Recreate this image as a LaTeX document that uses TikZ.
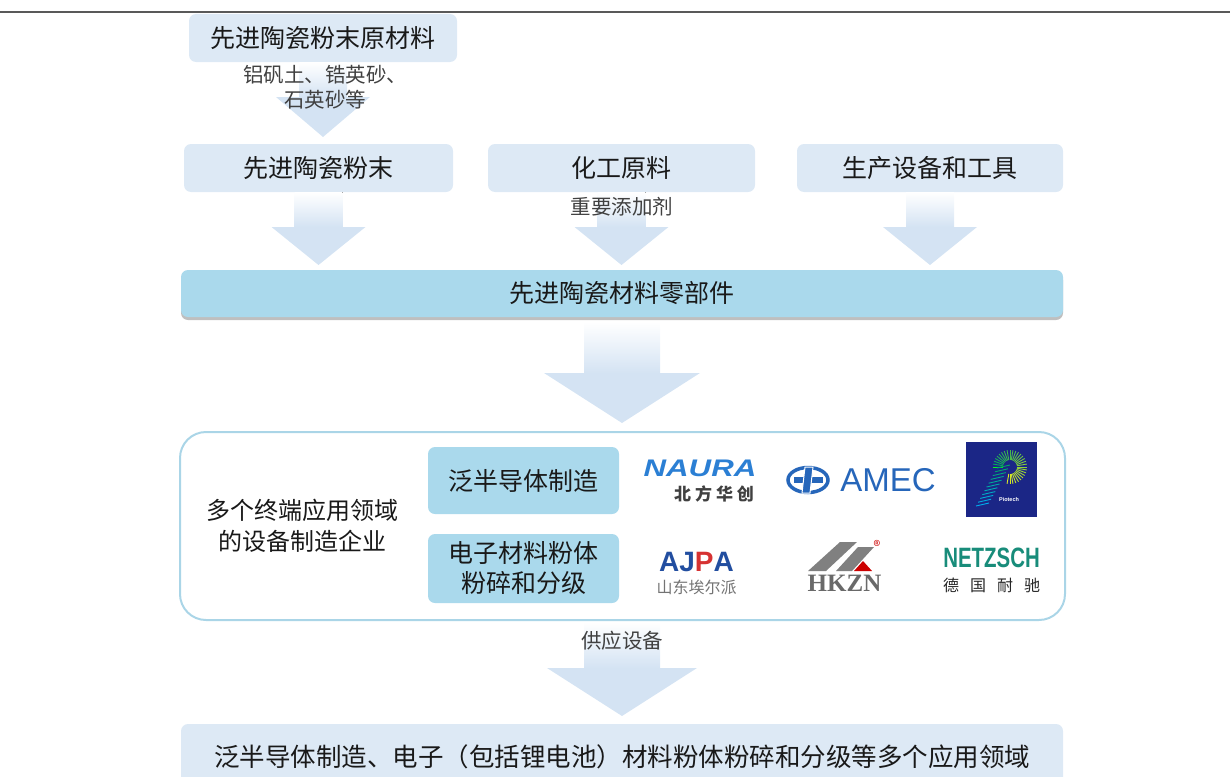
\documentclass[tikz,border=0pt]{standalone}
\usepackage{fontspec}
\setmainfont{Noto Sans CJK SC}
\newfontfamily\latinsans{Liberation Sans}
\newfontfamily\latinserif{Liberation Serif}
\usetikzlibrary{calc, shadows}

\definecolor{lightbox}{RGB}{221,233,245}
\definecolor{bluebox}{RGB}{170,217,236}
\definecolor{frameblue}{RGB}{170,213,231}
\definecolor{arrowblue}{RGB}{212,227,243}
\definecolor{naurablue}{RGB}{43,127,212}
\definecolor{amecblue}{RGB}{38,102,186}
\definecolor{pionavy}{RGB}{27,38,134}
\definecolor{ajpablue}{RGB}{34,78,160}
\definecolor{ajpared}{RGB}{214,50,50}
\definecolor{hkgrey}{RGB}{105,105,105}
\definecolor{netzteal}{RGB}{24,140,122}

\newcommand\fatarrow[5]{%
  \fill[arrow shaft] let \p1=(#1), \p2=(#2) in (\x1-#3pt,\y1) rectangle (\x1+#3pt,\y2+#5pt);
  \fill[arrow head] let \p1=(#1), \p2=(#2) in (\x1-#4pt,\y2+#5pt) -- (\x1+#4pt,\y2+#5pt) -- (\x1,\y2) -- cycle;
}

\begin{document}
\begin{tikzpicture}[x=1pt, y=-1pt,
    box/.style={rounded corners=7pt, inner sep=0pt, text=black!90, font=\fontsize{25}{30}\selectfont, align=center},
    light node/.style={box, fill=lightbox, minimum width=268pt, minimum height=48pt},
    blue node/.style={box, fill=bluebox},
    note node/.style={font=\fontsize{20.5}{25}\selectfont, text=black!75, align=center},
    logo node/.style={inner sep=0pt},
    arrow shaft/.style={top color=white, bottom color=arrowblue},
    arrow head/.style={fill=arrowblue}]
\useasboundingbox (0,0) rectangle (1230,776);
\clip (0,0) rectangle (1230,776);
\draw[black!65, line width=1.5pt] (0,12) -- (1230,12);

% supply side
\node[light node] (raw) at (323,38) {先进陶瓷粉末原材料};
\node[light node, minimum width=269pt] (powder) at (318.5,168) {先进陶瓷粉末};
\node[light node, minimum width=267pt] (chem) at (621.5,168) {化工原料};
\node[light node, minimum width=266pt] (tools) at (930,168) {生产设备和工具};
\node[blue node, minimum width=882pt, minimum height=47pt,
    drop shadow={shadow xshift=0pt, shadow yshift=-3pt, opacity=.25, fill=black}] (parts) at (622,293.5) {先进陶瓷材料零部件};

% equipment makers
\node[draw=frameblue, line width=2pt, rounded corners=26pt, minimum width=885pt, minimum height=188pt, inner sep=0pt] (makers) at (622.5,526) {};
\node[font=\fontsize{24}{31}\selectfont, text=black!90, align=center] (makers text) at (302,526) {多个终端应用领域\\的设备制造企业};
\node[blue node, minimum width=191pt, minimum height=67pt] (semi) at (523.5,480.5) {泛半导体制造};
\node[blue node, minimum width=191pt, minimum height=69pt] (grind) at (523.5,568.5) {电子材料粉体\\粉碎和分级};

% applications
\node[light node, minimum width=882pt, minimum height=66pt, font=\fontsize{25.5}{30}\selectfont] (apps) at (622,757) {泛半导体制造、电子（包括锂电池）材料粉体粉碎和分级等多个应用领域};

% arrows
\coordinate (tip raw) at (323,137);
\fatarrow{raw.south}{tip raw}{24}{47}{40}
\coordinate (tip powder) at (318.5,265);
\fatarrow{powder.south}{tip powder}{24}{47}{38}
\coordinate (tip chem) at (621.5,265);
\fatarrow{chem.south}{tip chem}{24}{47}{38}
\coordinate (tip tools) at (930,265);
\fatarrow{tools.south}{tip tools}{24}{47}{38}
\coordinate (parts tail) at (622,322);
\coordinate (tip parts) at (622,423);
\fatarrow{parts tail}{tip parts}{38}{78}{50}
\coordinate (makers tail) at (622,622);
\coordinate (tip makers) at (622,716);
\fatarrow{makers tail}{tip makers}{38}{75}{48}

\node[note node] (raw note) at (325,87) {铝矾土、锆英砂、\\石英砂等};
\node[note node] (chem note) at (622,207) {重要添加剂};
\node[note node] (supply note) at (622,641) {供应设备};

% logos
\node[logo node, text=naurablue, font=\latinsans\bfseries\itshape\fontsize{24}{26}\selectfont, xscale=1.3] (naura) at (700,468.5) {NAURA};
\node[logo node, text=black!75, font=\bfseries\fontsize{17}{20}\selectfont] (naura cn) at (714,494) {北\hskip4pt 方\hskip4pt 华\hskip4pt 创};

\draw[amecblue, line width=3.5pt] (808,480) ellipse [x radius=20pt, y radius=12.5pt];
\filldraw[amecblue, draw=white, line width=1pt] (793,476.5) rectangle (823,483.5);
\filldraw[amecblue, draw=white, line width=1pt] (805,467) -- (813,467) -- (810,493) -- (802,493) -- cycle;
\node[logo node, text=amecblue, font=\latinsans\fontsize{33}{36}\selectfont] (amec) at (888,480) {AMEC};

\fill[pionavy] (966,442) rectangle (1037,517);
\foreach \a [evaluate=\a as \c using {int((\a-180)/2.9)}] in {180,190,...,460}
  \draw[yellow!\c!green!90!cyan, line width=0.9pt] ($(1010,467)+(\a:7)$) -- ($(1010,467)+(\a:17)$);
\foreach \k [evaluate=\k as \c using {int(100-\k*9)}] in {0,...,10}
  \draw[cyan!\c!green, line width=0.9pt] (976+\k*2.1,506-\k*3.8) -- ++(13,-3);
\node[logo node, text=white, font=\latinsans\bfseries\fontsize{5.5}{6}\selectfont] (piotech) at (1009,500) {Piotech};

\node[logo node, text=ajpablue, font=\latinsans\bfseries\fontsize{28}{30}\selectfont] (ajpa) at (696.5,562) {AJ\textcolor{ajpared}{P}A};
\node[logo node, text=black!55, font=\fontsize{16}{18}\selectfont] (ajpa cn) at (696.5,587.5) {山东埃尔派};

\fill[hkgrey!85] (808,571) -- (826,571) -- (857,542) -- (840,542) -- cycle;
\fill[hkgrey!85] (836,571) -- (852,571) -- (874,547) -- (858,547) -- cycle;
\fill[red!80!black] (854,571) -- (872,571) -- (863,561) -- cycle;
\node[logo node, text=red!80!black, font=\fontsize{14}{15}\selectfont] (hkzn mark) at (877,546) {®};
\node[logo node, text=hkgrey, font=\latinserif\bfseries\fontsize{25}{27}\selectfont] (hkzn) at (844.5,583.5) {HKZN};

\node[logo node, text=netzteal, font=\latinsans\bfseries\fontsize{28}{30}\selectfont, xscale=0.73] (netzsch) at (991.5,558) {NETZSCH};
\node[logo node, text=black!85, font=\fontsize{16}{18}\selectfont] (netzsch cn) at (991.5,585) {德\hskip11pt 国\hskip11pt 耐\hskip11pt 驰};
\end{tikzpicture}
\end{document}
